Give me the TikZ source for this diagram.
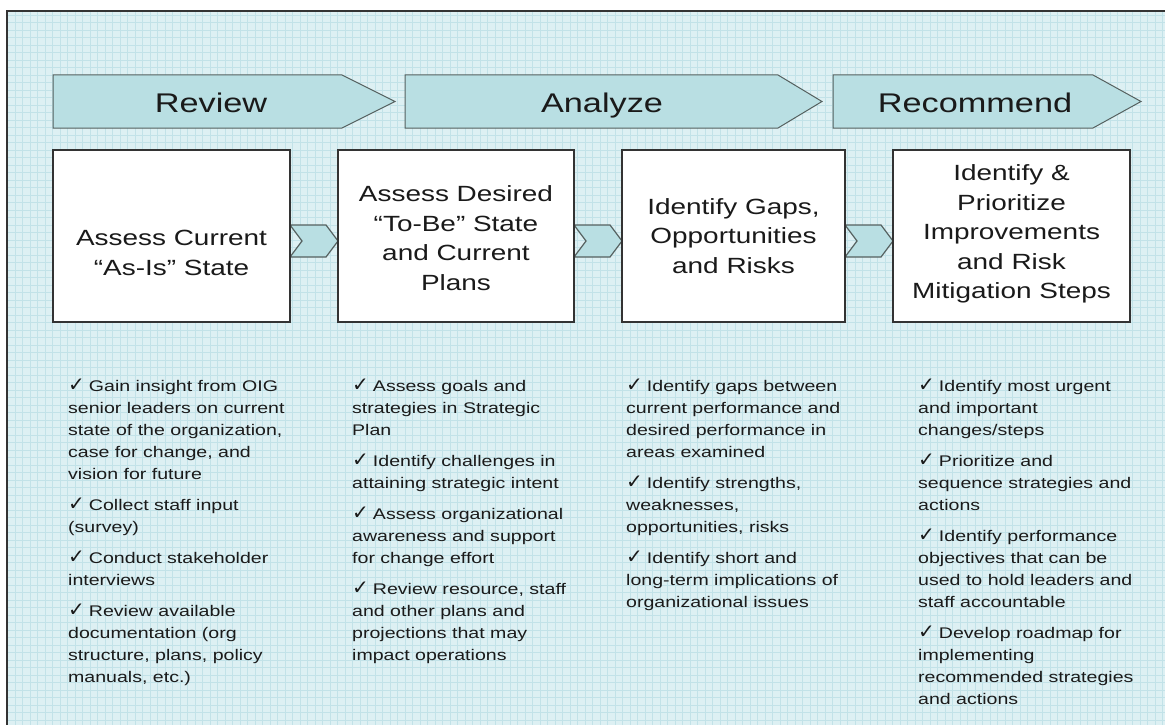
\documentclass[tikz,border=0pt]{standalone}
\usepackage{fontspec}
\setmainfont[FakeStretch=1.27]{Liberation Sans}
\newfontfamily\dv{DejaVu Sans}
\usetikzlibrary{calc}
\definecolor{bgc}{HTML}{DDF0F3}
\definecolor{gridc}{HTML}{C2E2E8}
\definecolor{bannerc}{HTML}{B9DFE3}
\definecolor{bannerline}{HTML}{55605F}
\definecolor{txt}{HTML}{1A1A1A}
\newcommand\ck{\smash{\dv\fontsize{20}{20}\selectfont ✓}\hspace{4pt}}
\begin{document}
\begin{tikzpicture}[x=1pt,y=1pt,
 bannertext/.style={font=\fontsize{27}{32}\selectfont, text=txt, inner sep=0},
 procbox/.style={draw=black!80, line width=1.6pt, fill=white, minimum height=172pt, inner sep=0},
 boxtext/.style={align=center, font=\fontsize{22}{29.5}\selectfont, text=txt, inner sep=0},
 bannershape/.style={fill=bannerc, draw=bannerline, line width=1pt},
 chev/.style={fill=bannerc, draw=bannerline, line width=1.2pt},
 bullets/.style={anchor=north west, inner sep=0, align=left, font=\fontsize{15.4}{22}\selectfont, text=txt},
]
\useasboundingbox (0,0) rectangle (1165,-725);
% background
\fill[bgc] (7,-11) rectangle (1165,-725);
\draw[gridc, line width=0.7pt, step=7.5] (7,-11) grid (1165,-725);
\draw[black!80, line width=1.3pt] (7,-725) -- (7,-11) -- (1165,-11);

% banners
\draw[bannershape] (53,-75) -- (342,-75) -- (395,-101.5) -- (342,-128) -- (53,-128) -- cycle;
\draw[bannershape] (405,-75) -- (778,-75) -- (822,-101.5) -- (778,-128) -- (405,-128) -- cycle;
\draw[bannershape] (833,-75) -- (1093,-75) -- (1141,-101.5) -- (1093,-128) -- (833,-128) -- cycle;
\node[bannertext, anchor=base] (t1) at (211,-113) {Review};
\node[bannertext, anchor=base] (t2) at (602,-113) {Analyze};
\node[bannertext, anchor=base] (t3) at (975,-113) {Recommend};

% chevrons between boxes
\draw[chev] (290,-225) -- (326,-225) -- (338,-241) -- (326,-257) -- (290,-257) -- (302,-241) -- cycle;
\draw[chev] (574,-225) -- (610,-225) -- (622,-241) -- (610,-257) -- (574,-257) -- (586,-241) -- cycle;
\draw[chev] (845,-225) -- (881,-225) -- (893,-241) -- (881,-257) -- (845,-257) -- (857,-241) -- cycle;

% boxes
\node[procbox, minimum width=237pt] (b1) at (171.5,-236) {};
\node[procbox, minimum width=236pt] (b2) at (456,-236) {};
\node[procbox, minimum width=223pt] (b3) at (733.5,-236) {};
\node[procbox, minimum width=237pt] (b4) at (1011.5,-236) {};
\node[boxtext] (b1t) at (171.5,-253) {Assess Current\\“As-Is” State};
\node[boxtext] (b2t) at (456,-238) {Assess Desired\\“To-Be” State\\and Current\\Plans};
\node[boxtext] (b3t) at (733.5,-236) {Identify Gaps,\\Opportunities\\and Risks};
\node[boxtext] (b4t) at (1011.5,-234) {Identify \&\\Prioritize\\Improvements\\and Risk\\Mitigation Steps};

% bullet lists
\node[bullets] (l1) at (68,-375.6) {\strut\ck Gain insight from OIG\\senior leaders on current\\state of the organization,\\case for change, and\\vision for future\\[9pt]
\ck Collect staff input\\(survey)\\[9pt]
\ck Conduct stakeholder\\interviews\\[9pt]
\ck Review available\\documentation (org\\structure, plans, policy\\manuals, etc.)};

\node[bullets] (l2) at (352,-375.6) {\strut\ck Assess goals and\\strategies in Strategic\\Plan\\[9pt]
\ck Identify challenges in\\attaining strategic intent\\[9pt]
\ck Assess organizational\\awareness and support\\for change effort\\[9pt]
\ck Review resource, staff\\and other plans and\\projections that may\\impact operations};

\node[bullets] (l3) at (626,-375.6) {\strut\ck Identify gaps between\\current performance and\\desired performance in\\areas examined\\[9pt]
\ck Identify strengths,\\weaknesses,\\opportunities, risks\\[9pt]
\ck Identify short and\\long-term implications of\\organizational issues};

\node[bullets] (l4) at (918,-375.6) {\strut\ck Identify most urgent\\and important\\changes/steps\\[9pt]
\ck Prioritize and\\sequence strategies and\\actions\\[9pt]
\ck Identify performance\\objectives that can be\\used to hold leaders and\\staff accountable\\[9pt]
\ck Develop roadmap for\\implementing\\recommended strategies\\and actions};
\end{tikzpicture}
\end{document}
